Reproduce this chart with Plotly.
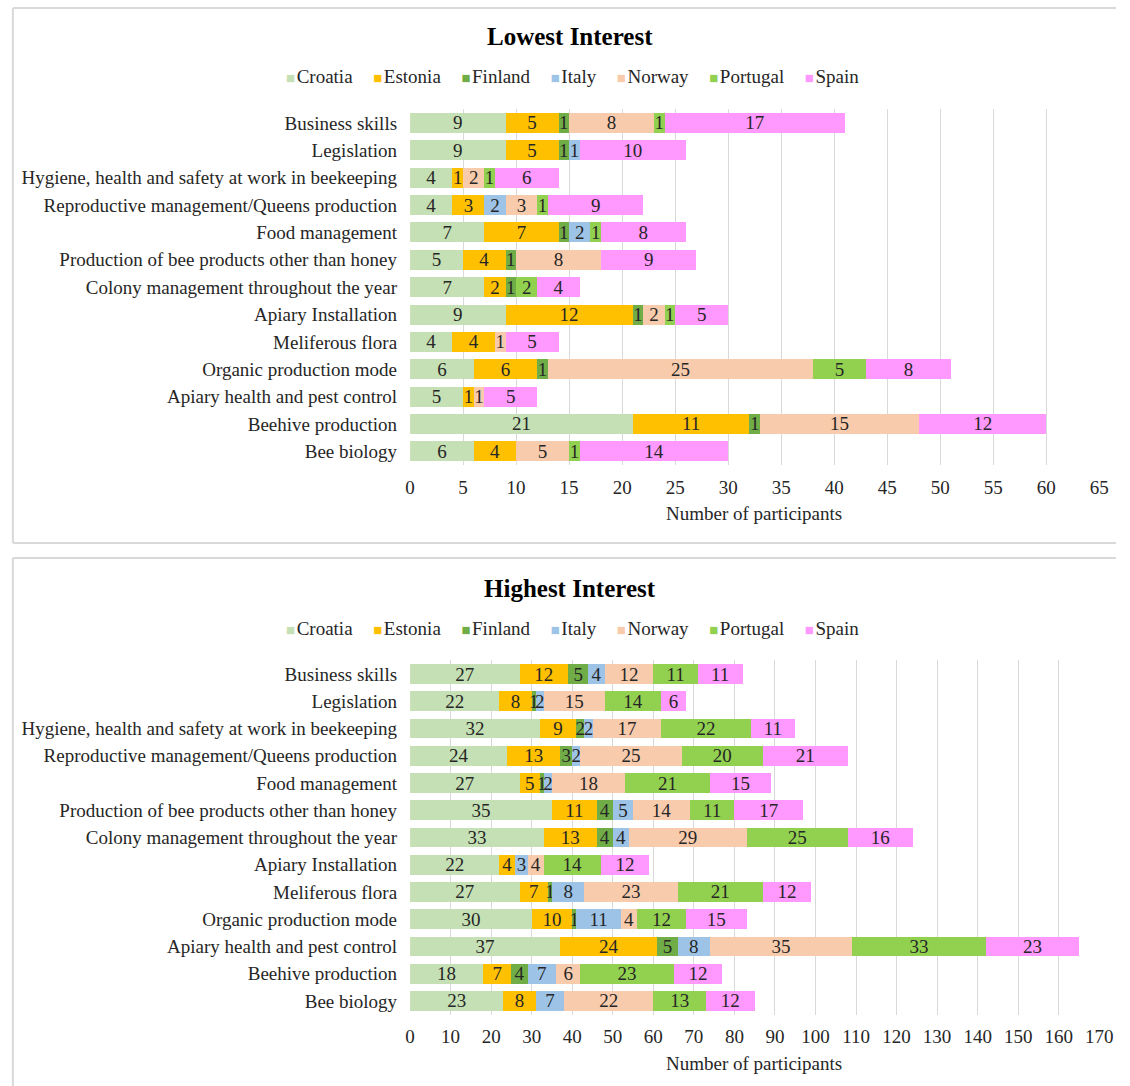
import plotly.graph_objects as go

categories = [
    "Business skills",
    "Legislation",
    "Hygiene, health and safety at work in beekeeping",
    "Reproductive management/Queens production",
    "Food management",
    "Production of bee products other than honey",
    "Colony management throughout the year",
    "Apiary Installation",
    "Meliferous flora",
    "Organic production mode",
    "Apiary health and pest control",
    "Beehive production",
    "Bee biology",
]
countries = ["Croatia", "Estonia", "Finland", "Italy", "Norway", "Portugal", "Spain"]
colors = ["#C5E0B4", "#FFC000", "#70AD47", "#9DC3E6", "#F8CBAD", "#92D050", "#FF99FF"]

# Lowest interest (per category, per country)
low_croatia  = [9, 9, 4, 4, 7, 5, 7, 9, 4, 6, 5, 21, 6]
low_estonia  = [5, 5, 1, 3, 7, 4, 2, 12, 4, 6, 1, 11, 4]
low_finland  = [1, 1, 0, 0, 1, 1, 1, 1, 0, 1, 0, 1, 0]
low_italy    = [0, 1, 0, 2, 2, 0, 0, 0, 0, 0, 0, 0, 0]
low_norway   = [8, 0, 2, 3, 0, 8, 0, 2, 1, 25, 1, 15, 5]
low_portugal = [1, 0, 1, 1, 1, 0, 2, 1, 0, 5, 0, 0, 1]
low_spain    = [17, 10, 6, 9, 8, 9, 4, 5, 5, 8, 5, 12, 14]

# Highest interest
high_croatia  = [27, 22, 32, 24, 27, 35, 33, 22, 27, 30, 37, 18, 23]
high_estonia  = [12, 8, 9, 13, 5, 11, 13, 4, 7, 10, 24, 7, 8]
high_finland  = [5, 1, 2, 3, 1, 4, 4, 0, 1, 1, 5, 4, 0]
high_italy    = [4, 2, 2, 2, 2, 5, 4, 3, 8, 11, 8, 7, 7]
high_norway   = [12, 15, 17, 25, 18, 14, 29, 4, 23, 4, 35, 6, 22]
high_portugal = [11, 14, 22, 20, 21, 11, 25, 14, 21, 12, 33, 23, 13]
high_spain    = [11, 6, 11, 21, 15, 17, 16, 12, 12, 15, 23, 12, 12]

low_series = [low_croatia, low_estonia, low_finland, low_italy, low_norway, low_portugal, low_spain]
high_series = [high_croatia, high_estonia, high_finland, high_italy, high_norway, high_portugal, high_spain]

FONT = "Liberation Serif, Times New Roman, serif"
TXT = "#262626"
FS = 19
W, H = 1130, 1086

fig = go.Figure()

def add_series(series, xa, ya):
    for name, col, vals in zip(countries, colors, series):
        fig.add_trace(go.Bar(
            y=categories, x=vals, name=name, orientation="h",
            marker=dict(color=col, line=dict(width=0)),
            text=[str(v) if v else "" for v in vals],
            textposition="inside", insidetextanchor="middle", textangle=0,
            textfont=dict(family=FONT, size=FS, color=TXT),
            xaxis=xa, yaxis=ya, showlegend=False, hoverinfo="skip",
        ))

add_series(low_series, "x", "y")
add_series(high_series, "x2", "y2")

def py(p):
    return 1 - p / H

xdom = [412 / W, 1113 / W]
xcommon = dict(
    showgrid=True, gridcolor="#D9D9D9", gridwidth=1,
    zeroline=False, showline=False, ticks="outside", ticklen=0,
    ticklabelstandoff=5,
    tickfont=dict(family=FONT, size=FS, color=TXT), fixedrange=True,
)
ycommon = dict(
    autorange="reversed", showgrid=False, zeroline=False, showline=False,
    ticks="", ticklabelstandoff=12,
    tickfont=dict(family=FONT, size=FS, color=TXT), fixedrange=True,
)

sep = "\u00a0\u00a0\u00a0\u00a0\u200a"
legend_text = sep.join(
    f'<span style="color:{c};font-size:15px">\u25a0</span>\u200a{n}'
    for n, c in zip(countries, colors)
)

def ann(text, x, y, size, color=TXT):
    return dict(text=text, x=x / W, y=py(y), xref="paper", yref="paper",
                showarrow=False, xanchor="center", yanchor="middle",
                font=dict(family=FONT, size=size, color=color))

def hline(y):
    return dict(type="line", xref="paper", yref="paper", x0=8 / W, x1=1,
                y0=py(y), y1=py(y), line=dict(color="#D9D9D9", width=2), layer="below")

def vline(x, ya, yb):
    return dict(type="line", xref="paper", yref="paper", x0=x / W, x1=x / W,
                y0=py(ya), y1=py(yb), line=dict(color="#D9D9D9", width=2), layer="below")

fig.update_layout(
    width=W, height=H, autosize=False, margin=dict(l=0, r=0, t=0, b=0, pad=0),
    paper_bgcolor="white", plot_bgcolor="white",
    barmode="stack", bargap=0.27,
    uniformtext=dict(minsize=FS, mode="show"),
    font=dict(family=FONT, size=FS, color=TXT),
    showlegend=False,
    xaxis=dict(domain=xdom, range=[0, 65], dtick=5, anchor="y", **xcommon),
    yaxis=dict(domain=[py(465), py(109.3)], anchor="x", **ycommon),
    xaxis2=dict(domain=xdom, range=[0, 170], dtick=10, anchor="y2", **xcommon),
    yaxis2=dict(domain=[py(1014.6), py(660.4)], anchor="x2", **ycommon),
    shapes=[
        hline(8), hline(543), vline(8, 8, 543),
        hline(558), vline(8, 558, H),
    ],
    annotations=[
        ann("<b>Lowest Interest</b>", 575, 37, 25, "black"),
        ann("<b>Highest Interest</b>", 575, 588, 25, "black"),
        ann(legend_text, 577, 76, FS),
        ann(legend_text, 577, 628, FS),
        ann("Number of participants", 762, 513, FS),
        ann("Number of participants", 762, 1063, FS),
    ],
)

fig.write_html(
    "out.html",
    config={"responsive": False},
    post_script="document.body.style.margin='0';document.body.style.overflow='hidden';",
)
